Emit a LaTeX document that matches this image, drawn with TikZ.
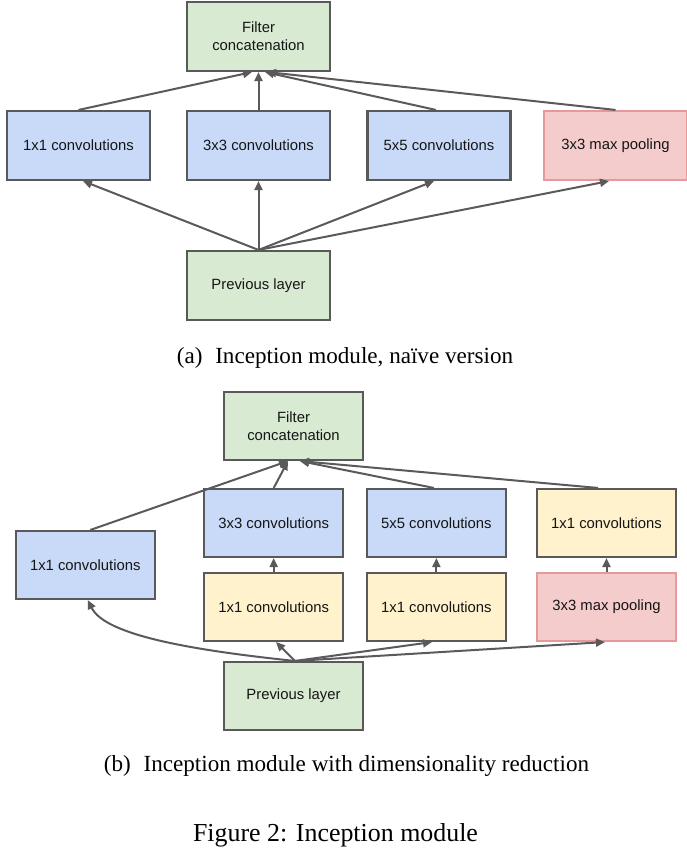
\documentclass[tikz,border=0pt]{standalone}
\usepackage{fontspec}
\setmainfont{Liberation Serif}
\newfontfamily\boxfont{Liberation Sans}
\usetikzlibrary{arrows.meta,calc}
\definecolor{gfill}{HTML}{D9EAD3}
\definecolor{bfill}{HTML}{C9DAF8}
\definecolor{rfill}{HTML}{F4CCCC}
\definecolor{redge}{HTML}{E49A9A}
\definecolor{yfill}{HTML}{FFF2CC}
\definecolor{edge}{HTML}{595959}
\definecolor{arrc}{HTML}{5A5A5A}
\definecolor{txt}{HTML}{151515}
\begin{document}
\begin{tikzpicture}[x=1bp,y=-1bp,
  box/.style={draw=edge, line width=2.1bp, minimum width=143bp, minimum height=69bp,
    inner sep=0pt, align=center, text=txt,
    font=\boxfont\fontsize{14.9}{18}\selectfont},
  boxb/.style={box, minimum width=139bp, minimum height=68bp},
  gbox/.style={fill=gfill},
  bbox/.style={fill=bfill},
  ybox/.style={fill=yfill},
  rbox/.style={fill=rfill, draw=redge},
  arr/.style={draw=arrc, line width=2bp, -{Triangle[length=9bp,width=8bp]}},
  subcap/.style={anchor=base, inner sep=0pt, font=\fontsize{23.2}{27}\selectfont},
  figcap/.style={anchor=base, inner sep=0pt, font=\fontsize{26}{30}\selectfont}
]
\useasboundingbox (0,0) rectangle (687,850);

% ---------- (a) ----------
\node[box,gbox] (fca) at (258.5,36.5) {Filter\\concatenation};
\node[box,bbox] (c1a) at (78.5,145.5) {1x1 convolutions};
\node[box,bbox] (c3a) at (258.5,145.5) {3x3 convolutions};
\node[box,bbox] (c5a) at (439,145.5) {5x5 convolutions};
\node[box,rbox] (mpa) at (615.5,145.5) {3x3 max pooling};
\node[box,gbox] (preva) at (258.5,285.5) {Previous layer};

\draw[arr] (c1a.north) -- ([xshift=-6.5bp]fca.south);
\draw[arr] (c3a.north) -- (fca.south);
\draw[arr] ([xshift=-3bp]c5a.north) -- ([xshift=6.5bp]fca.south);
\draw[arr] (mpa.north) -- ([xshift=8.5bp]fca.south);

\draw[arr] (preva.north) -- ([xshift=4.5bp]c1a.south);
\draw[arr] (preva.north) -- (c3a.south);
\draw[arr] (preva.north) -- ([xshift=-5bp]c5a.south);
\draw[arr] (preva.north) -- ([xshift=-6.5bp]mpa.south);

\node[subcap] (capa) at (345,363) {(a)\hspace{0.55em}Inception module, na\"ive version};

% ---------- (b) ----------
\node[boxb,gbox] (fcb) at (293.5,426) {Filter\\concatenation};
\node[boxb,bbox] (c3b) at (273.7,523) {3x3 convolutions};
\node[boxb,bbox] (c5b) at (436.4,523) {5x5 convolutions};
\node[boxb,ybox] (r1b) at (606.5,523) {1x1 convolutions};
\node[boxb,bbox] (l1b) at (85.3,565) {1x1 convolutions};
\node[boxb,ybox] (m1b) at (273.7,607) {1x1 convolutions};
\node[boxb,ybox] (m2b) at (436.4,607) {1x1 convolutions};
\node[boxb,rbox] (mpb) at (606.5,607) {3x3 max pooling};
\node[boxb,gbox] (prevb) at (293.5,696) {Previous layer};

\draw[arr] ([xshift=5bp]l1b.north) -- ([xshift=-5.5bp]fcb.south);
\draw[arr] (c3b.north) -- ([xshift=-5.5bp]fcb.south);
\draw[arr] ([xshift=-2.5bp]c5b.north) -- ([xshift=6.5bp]fcb.south);
\draw[arr] ([xshift=-8.5bp]r1b.north) -- ([xshift=6.5bp]fcb.south);

\draw[arr] (m1b.north) -- (c3b.south);
\draw[arr] (m2b.north) -- (c5b.south);
\draw[arr] (mpb.north) -- (r1b.south);

\draw[arr] ([xshift=1.5bp]prevb.north) .. controls (190,650) and (105,635) .. ([xshift=2.5bp]l1b.south);
\draw[arr] ([xshift=1.5bp]prevb.north) -- ([xshift=2.3bp]m1b.south);
\draw[arr] ([xshift=1.5bp]prevb.north) -- ([xshift=-4.4bp]m2b.south);
\draw[arr] ([xshift=1.5bp]prevb.north) -- ([xshift=-1.5bp]mpb.south);

\node[subcap] (capb) at (346.5,771.7) {(b)\hspace{0.55em}Inception module with dimensionality reduction};

\node[figcap] (figcap) at (335.5,841.7) {Figure 2: Inception module};
\end{tikzpicture}
\end{document}
